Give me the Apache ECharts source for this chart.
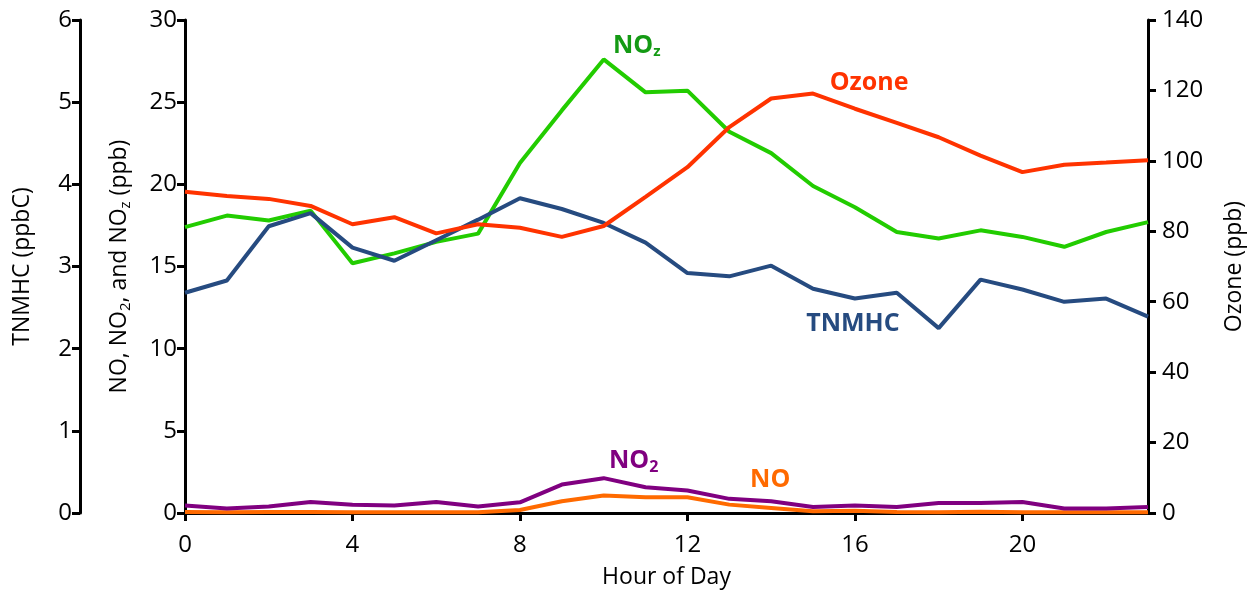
<!DOCTYPE html>
<html>
<head>
<meta charset="utf-8">
<script src="https://cdn.jsdelivr.net/npm/echarts@6/dist/echarts.min.js"></script>
<style>
html, body { margin: 0; padding: 0; background: #fff; }
#chart { width: 1257px; height: 596px; }
</style>
</head>
<body>
<div id="chart"></div>
<script>
// hour of day
var hours = [0, 1, 2, 3, 4, 5, 6, 7, 8, 9, 10, 11, 12, 13, 14, 15, 16, 17, 18, 19, 20, 21, 22, 23];
// ppbC, left outer axis
var tnmhc = [2.68, 2.83, 3.49, 3.65, 3.23, 3.07, 3.32, 3.57, 3.83, 3.70, 3.53, 3.29, 2.92, 2.88, 3.01, 2.73, 2.61, 2.68, 2.25, 2.84, 2.72, 2.57, 2.61, 2.39];
// ppb, left inner axis
var noz = [17.4, 18.1, 17.8, 18.4, 15.2, 15.8, 16.5, 17.0, 21.3, 24.5, 27.6, 25.6, 25.7, 23.2, 21.9, 19.9, 18.6, 17.1, 16.7, 17.2, 16.8, 16.2, 17.1, 17.7];
var no2 = [0.45, 0.27, 0.40, 0.67, 0.50, 0.45, 0.67, 0.40, 0.65, 1.73, 2.12, 1.57, 1.37, 0.86, 0.71, 0.37, 0.45, 0.37, 0.61, 0.61, 0.67, 0.27, 0.27, 0.37];
var no = [0.06, 0.05, 0.06, 0.06, 0.05, 0.05, 0.05, 0.05, 0.18, 0.71, 1.06, 0.96, 0.96, 0.51, 0.31, 0.10, 0.14, 0.06, 0.05, 0.08, 0.05, 0.05, 0.05, 0.05];
// ppb, right axis
var ozone = [91.2, 90.0, 89.2, 87.2, 82.0, 84.0, 79.4, 82.0, 81.0, 78.4, 81.5, 89.8, 98.2, 109.6, 117.7, 119.1, 114.8, 110.8, 106.7, 101.5, 96.8, 98.9, 99.5, 100.2];

var xTicks = ['0', '4', '8', '12', '16', '20'];

var black = '#000';
var font = 'Open Sans';
var subRich = {
    s: { fontSize: 15, verticalAlign: 'bottom', lineHeight: 15, fontFamily: font }
};

function pairs(vals) {
    return hours.map(function (h, i) { return [h, vals[i]]; });
}

function tag(idx, vals, text, color, offset, rich) {
    return {
        symbol: 'rect',
        symbolSize: 1,
        silent: true,
        itemStyle: { color: 'rgba(0,0,0,0)' },
        data: [{
            coord: [hours[idx], vals[idx]],
            label: {
                show: true,
                position: 'inside',
                offset: offset,
                formatter: text,
                color: color,
                fontSize: 25,
                fontWeight: 'bold',
                fontFamily: font,
                lineHeight: 28,
                rich: rich
            }
        }]
    };
}

function yAxisBase(extra) {
    var base = {
        type: 'value',
        nameLocation: 'middle',
        nameRotate: 90,
        splitLine: { show: false },
        axisLine: { show: true, onZero: false, lineStyle: { color: black, width: 3 } },
        axisTick: { show: true, length: 8, lineStyle: { color: black, width: 3 } },
        axisLabel: { color: black, fontSize: 24, fontFamily: font },
        nameTextStyle: { color: black, fontSize: 23, fontFamily: font }
    };
    return Object.assign(base, extra);
}

var chart = echarts.init(document.getElementById('chart'));
var option = {
    animation: false,
    backgroundColor: '#fff',
    grid: { left: 185, right: 109, top: 20, bottom: 83, containLabel: false },
    xAxis: {
        type: 'value',
        min: 0,
        max: 23,
        interval: 4,
        name: 'Hour of Day',
        nameLocation: 'middle',
        nameGap: 53,
        nameTextStyle: { color: black, fontSize: 23, fontFamily: font },
        splitLine: { show: false },
        axisLine: { onZero: false, lineStyle: { color: black, width: 3 } },
        axisTick: { length: 8, lineStyle: { color: black, width: 3 } },
        axisLabel: {
            color: black, fontSize: 24, fontFamily: font, margin: 20,
            showMaxLabel: false,
            formatter: function (v) { return xTicks.indexOf(String(v)) >= 0 ? String(v) : ''; }
        }
    },
    yAxis: [
        yAxisBase({
            name: 'TNMHC (ppbC)', position: 'left', offset: 105,
            min: 0, max: 6, interval: 1, nameGap: 46
        }),
        yAxisBase({
            name: 'NO, NO{s|2}, and NO{s|z} (ppb)', position: 'left', offset: 0,
            min: 0, max: 30, interval: 5, nameGap: 52,
            nameTextStyle: { color: black, fontSize: 23, fontFamily: font, lineHeight: 27, rich: subRich }
        }),
        yAxisBase({
            name: 'Ozone (ppb)', position: 'right', offset: 0,
            min: 0, max: 140, interval: 20, nameGap: 75,
            axisLabel: { color: black, fontSize: 24, fontFamily: font, margin: 14 }
        })
    ],
    series: [
        {
            name: 'NOz', type: 'line', yAxisIndex: 1, data: pairs(noz),
            showSymbol: false, lineStyle: { color: '#22cc00', width: 4 }, itemStyle: { color: '#22cc00' },
            markPoint: tag(10, noz, 'NO{s|z}', '#149a14', [33, -14],
                { s: { fontSize: 15, fontWeight: 'bold', verticalAlign: 'bottom', lineHeight: 15, color: '#149a14', fontFamily: font } })
        },
        {
            name: 'TNMHC', type: 'line', yAxisIndex: 0, data: pairs(tnmhc),
            showSymbol: false, lineStyle: { color: '#264b80', width: 4 }, itemStyle: { color: '#264b80' },
            markPoint: tag(16, tnmhc, 'TNMHC', '#264b80', [-2, 25])
        },
        {
            name: 'Ozone', type: 'line', yAxisIndex: 2, data: pairs(ozone),
            showSymbol: false, lineStyle: { color: '#ff3300', width: 4 }, itemStyle: { color: '#ff3300' },
            markPoint: tag(15, ozone, 'Ozone', '#ff3300', [56, -11])
        },
        {
            name: 'NO', type: 'line', yAxisIndex: 1, data: pairs(no),
            showSymbol: false, lineStyle: { color: '#ff6a00', width: 4 }, itemStyle: { color: '#ff6a00' },
            markPoint: tag(14, no, 'NO', '#ff6a00', [-1, -28])
        },
        {
            name: 'NO2', type: 'line', yAxisIndex: 1, data: pairs(no2),
            showSymbol: false, lineStyle: { color: '#800080', width: 4 }, itemStyle: { color: '#800080' },
            markPoint: tag(10, no2, 'NO{s|2}', '#800080', [30, -17],
                { s: { fontSize: 16, fontWeight: 'bold', verticalAlign: 'bottom', lineHeight: 16, color: '#800080', fontFamily: font } })
        }
    ]
};
chart.setOption(option);
</script>
</body>
</html>
